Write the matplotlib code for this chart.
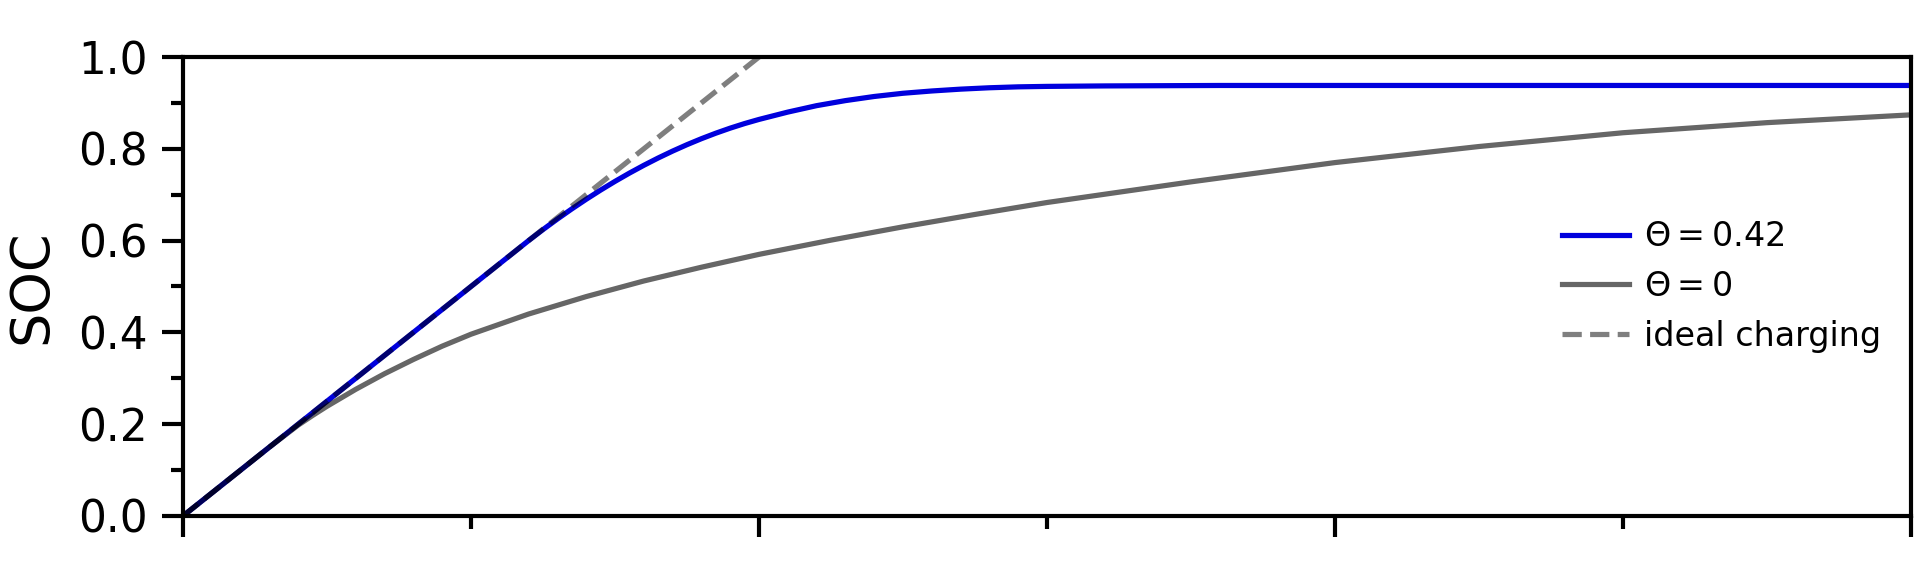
import numpy as np
import matplotlib
matplotlib.use('Agg')
import matplotlib.pyplot as plt
from matplotlib.ticker import MultipleLocator

# 讀圖估出的數值 (x 軸無刻度標籤, 以 0~3 表示)
x_theta042 = [0, 0.6, 0.625, 0.65, 0.675, 0.7, 0.725, 0.75, 0.775, 0.8, 0.825, 0.85, 0.875, 0.9, 0.925,
              0.95, 0.975, 1.0, 1.05, 1.1, 1.15, 1.2, 1.25, 1.3, 1.35, 1.4, 1.45, 1.5, 1.6, 1.7, 1.8, 2.0, 3.0]
soc_theta042 = [0, 0.6, 0.624, 0.647, 0.669, 0.690, 0.710, 0.729, 0.747, 0.764, 0.780, 0.795, 0.809, 0.822,
                0.834, 0.845, 0.855, 0.864, 0.880, 0.894, 0.905, 0.914, 0.921, 0.926, 0.930, 0.933, 0.935,
                0.936, 0.937, 0.9375, 0.938, 0.938, 0.938]

x_theta0 = [0, 0.15, 0.2, 0.225, 0.25, 0.3, 0.35, 0.4, 0.45, 0.5, 0.6, 0.7, 0.8, 0.9, 1.0, 1.125, 1.25,
            1.375, 1.5, 1.75, 2.0, 2.25, 2.5, 2.75, 3.0]
soc_theta0 = [0, 0.15, 0.198, 0.219, 0.239, 0.276, 0.310, 0.341, 0.370, 0.396, 0.440, 0.478, 0.512, 0.542,
              0.570, 0.601, 0.630, 0.657, 0.683, 0.728, 0.770, 0.805, 0.835, 0.857, 0.874]

x_ideal = [0, 1.0]
soc_ideal = [0, 1.0]

plt.rcParams['font.family'] = ['DejaVu Sans']
fig = plt.figure(figsize=(6.4, 1.91), dpi=300)
ax = fig.add_axes([0.0953, 0.0995, 0.9, 0.801])

ax.plot(x_theta042, soc_theta042, color='#0000dd', lw=1.25, label=r'$\Theta = 0.42$')
ax.plot(x_theta0, soc_theta0, color='black', alpha=0.6, lw=1.25, label=r'$\Theta = 0$')
ax.plot(x_ideal, soc_ideal, color='black', alpha=0.5, lw=1.25, ls='--', label='ideal charging')

ax.set_xlim(0, 3)
ax.set_ylim(0, 1)
ax.xaxis.set_major_locator(MultipleLocator(1))
ax.xaxis.set_minor_locator(MultipleLocator(0.5))
ax.yaxis.set_major_locator(MultipleLocator(0.2))
ax.yaxis.set_minor_locator(MultipleLocator(0.1))
ax.set_xticklabels([])
ax.tick_params(which='major', length=5, width=1.0, labelsize=10.5)
ax.tick_params(which='minor', length=3, width=1.0)
for s in ax.spines.values():
    s.set_linewidth(1.0)
ax.set_ylabel('SOC', fontsize=13, labelpad=5)

ax.legend(loc='center right', frameon=False, fontsize=8, handletextpad=0.45)

fig.savefig('out.png', dpi=300)
